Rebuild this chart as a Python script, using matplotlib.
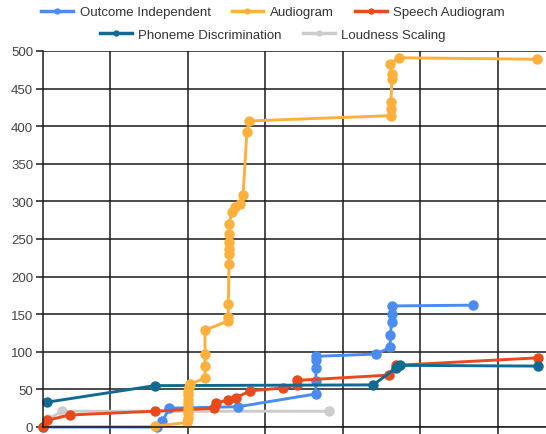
import matplotlib.pyplot as plt
from matplotlib.lines import Line2D

plt.rcParams["font.family"] = ["Liberation Sans", "DejaVu Sans"]

# ── Data (x: grid-line units, y: cumulative count) ─────────────────────────────
outcome_x = [0.13, 1.60, 1.67, 1.76, 2.65, 3.65, 3.65, 3.65, 3.65, 3.65, 4.43, 4.61, 4.61, 4.63, 4.63, 4.63, 5.68]
outcome_y = [0, 0, 8, 25, 27, 44, 61, 78, 89, 94, 97, 106, 122, 140, 150, 161, 162]

audio_x = [1.57, 1.99, 2.00, 2.00, 2.00, 2.00, 2.00, 2.00, 2.00, 2.01, 2.03,
           2.22, 2.22, 2.22, 2.22,
           2.52, 2.52, 2.52, 2.53, 2.53, 2.53, 2.53, 2.53, 2.53, 2.57, 2.61,
           2.67, 2.71, 2.76, 2.79,
           4.62, 4.62, 4.62, 4.63, 4.63, 4.61, 4.72, 6.50]
audio_y = [1, 6, 12, 18, 24, 30, 36, 42, 48, 53, 57,
           65, 81, 97, 129,
           141, 146, 164, 217, 230, 237, 246, 256, 270, 286, 292,
           297, 308, 392, 407,
           414, 423, 432, 463, 469, 483, 491, 489]

speech_x = [0.13, 0.18, 0.48, 1.57, 2.34, 2.36, 2.52, 2.62, 2.80, 3.23, 3.41, 3.41, 4.59, 4.68, 6.52]
speech_y = [0, 9, 16, 21, 25, 32, 36, 39, 48, 52, 56, 62, 69, 82, 92]

phoneme_x = [0.18, 1.57, 4.39, 4.68, 4.71, 4.74, 6.52]
phoneme_y = [33, 55, 56, 78, 81, 82, 81]

loud_x = [0.19, 0.37, 3.82]
loud_y = [10, 21, 21]

series = [
    ("Loudness Scaling", loud_x, loud_y, "#cccccc"),
    ("Outcome Independent", outcome_x, outcome_y, "#4a8cf2"),
    ("Speech Audiogram", speech_x, speech_y, "#e84a1c"),
    ("Phoneme Discrimination", phoneme_x, phoneme_y, "#126a92"),
    ("Audiogram", audio_x, audio_y, "#fdb13c"),
]
colors = {name: c for name, _, _, c in series}

# ── Plot ───────────────────────────────────────────────────────────────────────
fig = plt.figure(figsize=(5.46, 4.35), dpi=100)
ax = fig.add_axes([43 / 546, 7 / 435, 1 - 43 / 546, 376 / 435])

for name, xs, ys, c in series:
    ax.plot(xs, ys, color=c, linewidth=2.1, marker="o", markersize=6.5,
            clip_on=False, label=name)

ax.set_xlim(0.129, 6.62)
ax.set_ylim(0, 500)
ax.set_yticks(range(0, 501, 50))
ax.set_xticks(range(1, 7))
ax.set_xticklabels([])
ax.grid(True, color="#1a1a1a", linewidth=1.1)
ax.set_axisbelow(True)
ax.tick_params(axis="both", length=5, width=1.1, color="#1a1a1a",
               labelsize=9.5, labelcolor="#444444", pad=2)
for side in ("top", "right"):
    ax.spines[side].set_visible(False)
for side in ("left", "bottom"):
    ax.spines[side].set_color("#1a1a1a")
    ax.spines[side].set_linewidth(1.1)

# ── Legend (two centred rows) ─────────────────────────────────────────────────
def handle(name):
    return Line2D([], [], color=colors[name], linewidth=2.5, marker="o", markersize=3.5)

row1 = ["Outcome Independent", "Audiogram", "Speech Audiogram"]
row2 = ["Phoneme Discrimination", "Loudness Scaling"]
common = dict(frameon=False, fontsize=9.5, handlelength=2.4, handletextpad=0.5,
              columnspacing=1.6, borderaxespad=0, labelcolor="#333333")
fig.legend([handle(n) for n in row1], row1, loc="center", ncol=3,
           bbox_to_anchor=(0.5, 1 - 13 / 435), **common)
fig.legend([handle(n) for n in row2], row2, loc="center", ncol=2,
           bbox_to_anchor=(0.5, 1 - 36 / 435), **common)

fig.savefig("out.png", dpi=100)
